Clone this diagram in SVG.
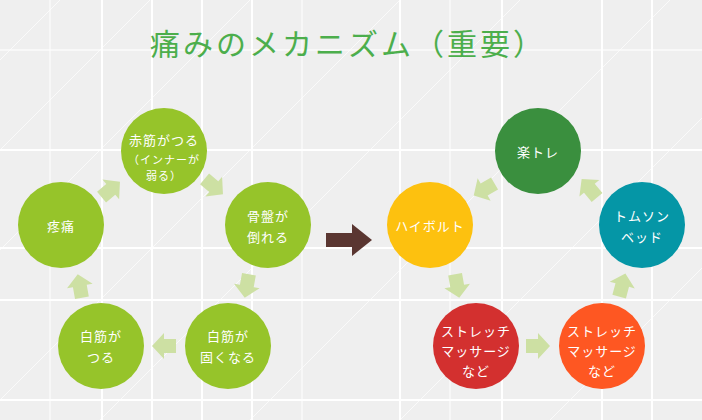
<svg xmlns="http://www.w3.org/2000/svg" width="702" height="420" viewBox="0 0 702 420">
<style>
text{font-family:"Noto Sans CJK JP","Noto Sans",sans-serif;fill:#fff;font-size:13px;text-anchor:middle;letter-spacing:1px}
.g line{stroke:#fff;stroke-width:2}
.d line{stroke:#fff;stroke-width:1;opacity:.7}
.ar{fill:#cde0a3}
</style>
<defs><path id="a" d="M-11,-7H1V-13L13,0L1,13V7H-11Z"/></defs>
<rect width="702" height="420" fill="#efefef"/>
<g class="g">
<line x1="0" y1="150" x2="702" y2="150"/><line x1="0" y1="248" x2="702" y2="248"/><line x1="0" y1="300" x2="702" y2="300"/><line x1="0" y1="400" x2="702" y2="400"/><line x1="0" y1="50" x2="702" y2="50" opacity=".6"/>
<line x1="102" y1="0" x2="102" y2="420"/><line x1="152" y1="0" x2="152" y2="420"/><line x1="202" y1="0" x2="202" y2="420"/><line x1="252" y1="0" x2="252" y2="420"/><line x1="400" y1="0" x2="400" y2="420"/><line x1="502" y1="0" x2="502" y2="420"/><line x1="602" y1="0" x2="602" y2="420"/><line x1="652" y1="0" x2="652" y2="420"/><line x1="50" y1="0" x2="50" y2="420" opacity=".5"/><line x1="302" y1="0" x2="302" y2="420" opacity=".5"/><line x1="450" y1="0" x2="450" y2="420" opacity=".5"/>
</g>
<g class="d">
<line x1="0" y1="150" x2="150" y2="0"/><line x1="0" y1="250" x2="250" y2="0"/><line x1="0" y1="400" x2="400" y2="0"/><line x1="100" y1="420" x2="520" y2="0"/><line x1="250" y1="420" x2="670" y2="0"/><line x1="400" y1="420" x2="702" y2="118"/><line x1="550" y1="420" x2="702" y2="268"/><line x1="0" y1="60" x2="60" y2="0"/>
</g>
<text x="348" y="55" style="fill:#4cae4c;font-size:30px;letter-spacing:3px">痛みのメカニズム（重要）</text>
<g id="connectors">
<use href="#a" class="ar" transform="translate(110,190) rotate(-40)"/>
<use href="#a" class="ar" transform="translate(213,186) rotate(40)"/>
<use href="#a" class="ar" transform="translate(247,285) rotate(100)"/>
<use href="#a" class="ar" transform="translate(165,346) rotate(180)"/>
<use href="#a" class="ar" transform="translate(80,287) rotate(-100)"/>
<use href="#a" class="ar" transform="translate(485,189) rotate(150)"/>
<use href="#a" class="ar" transform="translate(457,285) rotate(80)"/>
<use href="#a" class="ar" transform="translate(537,346)"/>
<use href="#a" class="ar" transform="translate(622,286) rotate(-75)"/>
<use href="#a" class="ar" transform="translate(590,189) rotate(-130)"/>
<path d="M326,233H352V224L372,240L352,256V247H326Z" fill="#5a3631"/>
</g>
<g id="n1"><circle cx="164" cy="151" r="43" fill="#96c42a"/><text x="164" y="145">赤筋がつる</text><text x="164" y="164" style="font-size:11px">（インナーが</text><text x="164" y="180" style="font-size:11px">弱る）</text></g>
<g id="n2"><circle cx="268" cy="225" r="43" fill="#96c42a"/><text x="268" y="221">骨盤が</text><text x="268" y="242">倒れる</text></g>
<g id="n3"><circle cx="61" cy="225" r="43" fill="#96c42a"/><text x="61" y="231">疼痛</text></g>
<g id="n4"><circle cx="101" cy="346" r="43" fill="#96c42a"/><text x="101" y="341">白筋が</text><text x="101" y="362">つる</text></g>
<g id="n5"><circle cx="228" cy="346" r="43" fill="#96c42a"/><text x="228" y="341">白筋が</text><text x="228" y="362">固くなる</text></g>
<g id="n6"><circle cx="538" cy="151" r="43" fill="#3a8f3e"/><text x="538" y="157">楽トレ</text></g>
<g id="n7"><circle cx="430" cy="225" r="43" fill="#fdc10f"/><text x="430" y="231">ハイボルト</text></g>
<g id="n8"><circle cx="642" cy="225" r="43" fill="#0596a6"/><text x="642" y="221">トムソン</text><text x="642" y="242">ベッド</text></g>
<g id="n9"><circle cx="476" cy="346" r="43" fill="#d3302f"/><text x="476" y="336">ストレッチ</text><text x="476" y="356">マッサージ</text><text x="476" y="376">など</text></g>
<g id="n10"><circle cx="602" cy="346" r="43" fill="#fe5722"/><text x="602" y="336">ストレッチ</text><text x="602" y="356">マッサージ</text><text x="602" y="376">など</text></g>
</svg>
